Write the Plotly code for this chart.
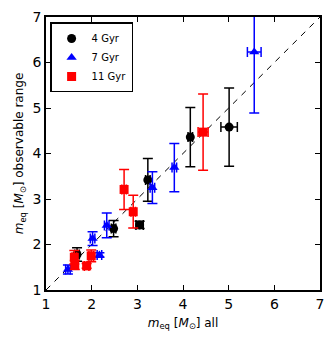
import plotly.graph_objects as go

# 4 Gyr
x_4 = [1.68, 2.48, 3.05, 3.23, 4.16, 5.01]
y_4 = [1.78, 2.35, 2.43, 3.42, 4.36, 4.58]
yerr_4 = [0.15, 0.18, 0.08, 0.47, 0.65, 0.86]
xerr_4 = [0.05, 0.05, 0.08, 0.05, 0.05, 0.18]

# 7 Gyr
x_7 = [1.48, 2.02, 2.17, 2.33, 3.33, 3.81, 5.56]
y_7 = [1.45, 2.13, 1.77, 2.42, 3.25, 3.69, 6.23]
yerr_7 = [0.10, 0.15, 0.05, 0.27, 0.35, 0.53, 1.34]
xerr_7 = [0.05, 0.05, 0.05, 0.05, 0.05, 0.05, 0.15]

# 11 Gyr
x_11 = [1.62, 1.63, 1.89, 1.99, 2.71, 2.91, 4.44]
y_11 = [1.72, 1.55, 1.53, 1.75, 3.21, 2.72, 4.47]
yerr_11 = [0.15, 0.10, 0.05, 0.13, 0.44, 0.36, 0.84]
xerr_11 = [0.05, 0.05, 0.05, 0.05, 0.05, 0.05, 0.11]

diag = [1, 7]
ticks = [1, 2, 3, 4, 5, 6, 7]

fig = go.Figure()

fig.add_trace(go.Scatter(x=diag, y=diag, mode="lines", showlegend=False,
                         line=dict(color="black", width=1, dash="6px,6px")))

series = [
    ("4 Gyr", x_4, y_4, xerr_4, yerr_4, "black", "circle"),
    ("7 Gyr", x_7, y_7, xerr_7, yerr_7, "blue", "triangle-up"),
    ("11 Gyr", x_11, y_11, xerr_11, yerr_11, "red", "square"),
]
for name, xs, ys, xe, ye, col, sym in series:
    fig.add_trace(go.Scatter(
        x=xs, y=ys, mode="markers", name=name,
        marker=dict(color=col, symbol=sym, size=9, line=dict(color=col, width=0)),
        error_y=dict(type="data", array=ye, color=col, thickness=1.5, width=5),
        error_x=dict(type="data", array=xe, color=col, thickness=1.5, width=5),
    ))

axis = dict(range=[1, 7], tickvals=ticks, ticks="inside", ticklen=5, tickwidth=1,
            tickcolor="black", mirror="ticks", showline=True, linecolor="black",
            linewidth=1.5, showgrid=False, zeroline=False, automargin=False,
            tickfont=dict(size=14, color="black"))

fig.update_layout(
    width=332, height=342,
    margin=dict(l=46, r=12, t=17, b=52),
    paper_bgcolor="white", plot_bgcolor="white",
    font=dict(family="DejaVu Sans", color="black"),
    xaxis=dict(axis, title=dict(text="<i>m</i><sub>eq</sub> [<i>M</i><sub>⊙</sub>] all",
                                font=dict(size=12), standoff=8)),
    yaxis=dict(axis, title=dict(text="<i>m</i><sub>eq</sub> [<i>M</i><sub>⊙</sub>] observable range",
                                font=dict(size=12), standoff=6)),
    legend=dict(x=0.015, y=0.98, xanchor="left", yanchor="top",
                bordercolor="black", borderwidth=1.5, bgcolor="white",
                font=dict(size=10), itemwidth=30, tracegroupgap=0),
)

# drop the browser's default page margin so the figure sits at the top-left corner
fig.write_html("out.html", config={"displayModeBar": False},
               post_script="document.body.style.margin='0';")
